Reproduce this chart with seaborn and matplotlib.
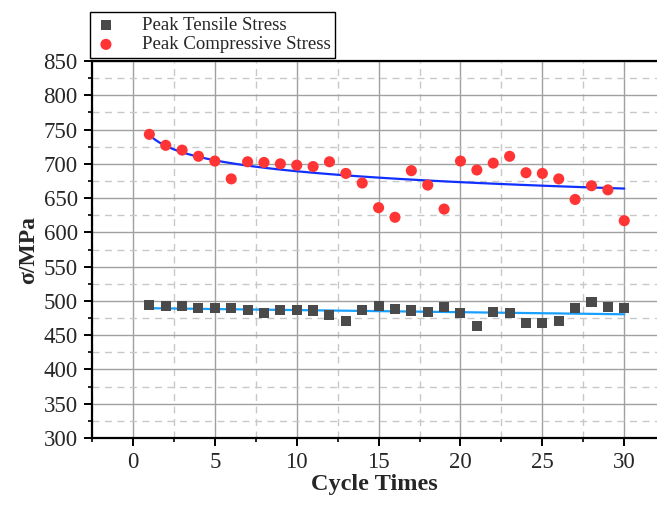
import numpy as np
import pandas as pd
import matplotlib
matplotlib.use("Agg")
import matplotlib.pyplot as plt
import seaborn as sns
from matplotlib.ticker import MultipleLocator

cycles = list(range(1, 31))
tensile = [494, 493, 493, 490, 490, 490, 487, 483, 487, 487,
           486, 480, 470, 487, 493, 488, 486, 484, 491, 483,
           463, 484, 483, 468, 468, 471, 490, 498, 491, 490]
compressive = [743, 727, 720, 711, 704, 678, 703, 702, 700, 698,
               696, 703, 686, 672, 636, 622, 690, 669, 634, 704,
               691, 701, 711, 687, 686, 678, 648, 668, 662, 617]

df = pd.DataFrame({"cycle": cycles, "tensile": tensile, "compressive": compressive})

sns.set_style("white")
plt.rcParams["font.family"] = ["Liberation Serif", "DejaVu Serif"]

fig = plt.figure(figsize=(6.57, 5.07), dpi=100)
ax = fig.add_axes([91.7 / 657, 1 - 438 / 507, 1 - 91.7 / 657, (438 - 61) / 507])

sns.regplot(data=df, x="cycle", y="compressive", logx=True, ci=None, scatter=False,
            ax=ax, line_kws=dict(color="#1030FF", lw=1.6, zorder=3))
sns.regplot(data=df, x="cycle", y="tensile", ci=None, scatter=False, truncate=True,
            ax=ax, line_kws=dict(color="#18A0FF", lw=1.6, zorder=3))

sns.scatterplot(data=df, x="cycle", y="tensile", ax=ax, marker="s", s=52,
                color="#4A4A4A", edgecolor="none", label="Peak Tensile Stress", zorder=4)
sns.scatterplot(data=df, x="cycle", y="compressive", ax=ax, marker="o", s=64,
                color="#FF3535", edgecolor="none", label="Peak Compressive Stress", zorder=4)

ax.set_xlim(-2.52, 32.0)
ax.set_ylim(300, 850)
ax.xaxis.set_major_locator(MultipleLocator(5))
ax.xaxis.set_minor_locator(MultipleLocator(2.5))
ax.yaxis.set_major_locator(MultipleLocator(50))
ax.yaxis.set_minor_locator(MultipleLocator(25))

ax.grid(which="major", color="#A0A0A0", lw=1.0, ls="-")
ax.grid(which="minor", color="#C8C8C8", lw=1.0, ls=(0, (5, 4)))
ax.set_axisbelow(True)

for side in ["left", "bottom", "top"]:
    ax.spines[side].set_color("black")
    ax.spines[side].set_linewidth(1.6)
ax.spines["right"].set_visible(False)

ax.tick_params(axis="both", which="major", direction="out", length=6, width=1.4,
               labelsize=16.5, color="black", left=True, bottom=True, pad=4)
ax.tick_params(axis="both", which="minor", direction="out", length=3, width=1.2,
               color="black", left=True, bottom=True)

ax.set_xlabel("Cycle Times", fontsize=17.5, fontweight="bold", labelpad=1)
ax.set_ylabel("σ/MPa", fontsize=17, fontweight="bold", labelpad=3)

leg = ax.legend(loc="lower left", bbox_to_anchor=(-0.003, 1.008), borderaxespad=0,
                frameon=True, fancybox=False, edgecolor="black", fontsize=13.5,
                handletextpad=1.3, borderpad=0.25, labelspacing=0.1, handlelength=1.2)
leg.get_frame().set_linewidth(1.0)
leg.get_frame().set_alpha(1)

fig.savefig("out.png", dpi=100)
